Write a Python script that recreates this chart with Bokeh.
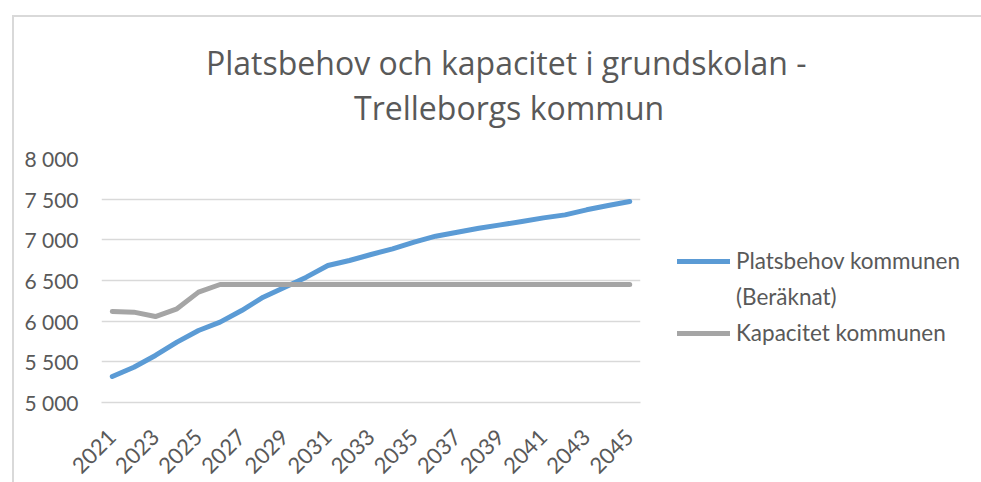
import math
from bokeh.plotting import figure
from bokeh.models import Legend, LegendItem, FixedTicker, Range1d, Title, LinearAxis
from bokeh.embed import file_html
from bokeh.resources import INLINE

# ---- data ----
years = [2021, 2022, 2023, 2024, 2025, 2026, 2027, 2028, 2029, 2030, 2031, 2032, 2033,
         2034, 2035, 2036, 2037, 2038, 2039, 2040, 2041, 2042, 2043, 2044, 2045]
platsbehov = [5320, 5434, 5578, 5742, 5885, 5988, 6131, 6295, 6418, 6541, 6684, 6746, 6820,
              6889, 6971, 7045, 7094, 7143, 7184, 7225, 7270, 7307, 7369, 7422, 7471]
kapacitet = [6119, 6111, 6057, 6152, 6357, 6451, 6451, 6451, 6451, 6451, 6451, 6451, 6451,
             6451, 6451, 6451, 6451, 6451, 6451, 6451, 6451, 6451, 6451, 6451, 6451]
tick_years = [2021, 2023, 2025, 2027, 2029, 2031, 2033, 2035, 2037, 2039, 2041, 2043, 2045]
y_ticks = [5000, 5500, 6000, 6500, 7000, 7500, 8000]
y_tick_labels = ["5 000", "5 500", "6 000", "6 500", "7 000", "7 500", "8 000"]
title_lines = ["Platsbehov och kapacitet i grundskolan -", "Trelleborgs kommun"]
legend_lines = ["Platsbehov kommunen", "(Beräknat)", "Kapacitet kommunen"]

FONT = "Lato"
TFONT = "Open Sans"
TXT = "#595959"
GRID = "#d9d9d9"

p = figure(output_backend="svg", toolbar_location=None,
           frame_width=539, frame_height=244,
           min_border_left=101, min_border_right=338,
           min_border_top=158, min_border_bottom=78,
           x_range=Range1d(years[0] - 0.5, years[-1] + 0.5),
           y_range=Range1d(y_ticks[0], y_ticks[-1]))
# chart-area border (thin light grey line on top and left)
p.border_fill_alpha = 0
p.styles = {"background-color": "white",
            "box-shadow": "inset 12px 15px 0 0 white, inset 14px 17px 0 0 #d9d9d9"}
p.outline_line_color = None

r1 = p.line(years, platsbehov, line_color="#5b9bd5", line_width=5, line_cap="round", line_join="round")
r2 = p.line(years, kapacitet, line_color="#a5a5a5", line_width=5, line_cap="round", line_join="round")

# main x axis
xax = p.below[0]
xax.ticker = FixedTicker(ticks=tick_years)
xax.major_label_orientation = math.pi / 4
xax.major_tick_line_color = None
xax.minor_tick_line_color = None
xax.major_tick_out = 0
xax.major_tick_in = 0
xax.axis_line_color = GRID
xax.axis_line_width = 1.5
xax.major_label_text_font = FONT
xax.major_label_text_font_size = "22px"
xax.major_label_text_color = TXT
xax.major_label_standoff = 31

# spacing between frame and title: an axis with one invisible (white) tick and no label text
gap_tick = [years[12]]
gap = LinearAxis(ticker=FixedTicker(ticks=gap_tick), axis_line_color=None,
                 major_tick_out=30, major_tick_in=0, major_tick_line_color="white",
                 minor_tick_line_color=None, major_label_standoff=0,
                 major_label_overrides={gap_tick[0]: ""}, major_label_text_font_size="1px")
p.add_layout(gap, "above")

# two title lines, each centred over the whole chart
for txt, off in [(title_lines[1], 252.5), (title_lines[0], 104.5)]:
    p.add_layout(Title(text=txt, align="left", offset=off, standoff=0,
                       text_font=TFONT, text_font_size="32px", text_font_style="normal",
                       text_color=TXT), "above")

yax = p.left[0]
yax.ticker = FixedTicker(ticks=y_ticks)
yax.major_label_overrides = dict(zip(y_ticks, y_tick_labels))
yax.axis_line_color = None
yax.major_tick_line_color = None
yax.minor_tick_line_color = None
yax.major_tick_out = 0
yax.major_tick_in = 0
yax.major_label_text_font = FONT
yax.major_label_text_font_size = "21px"
yax.major_label_text_color = TXT
yax.major_label_standoff = 23

p.xgrid.grid_line_color = None
p.ygrid.grid_line_color = GRID
p.ygrid.grid_line_width = 1.5

legend = Legend(items=[LegendItem(label=legend_lines[0], renderers=[r1]),
                       LegendItem(label=legend_lines[1], renderers=[]),
                       LegendItem(label=legend_lines[2], renderers=[r2])],
                location=(37, 56), glyph_width=53, label_standoff=6,
                label_text_font=FONT, label_text_font_size="22.5px", label_text_color=TXT,
                border_line_color=None, background_fill_alpha=0, spacing=9,
                margin=0, padding=10)
p.add_layout(legend, "right")

open("out.html", "w").write(file_html(p, INLINE))
